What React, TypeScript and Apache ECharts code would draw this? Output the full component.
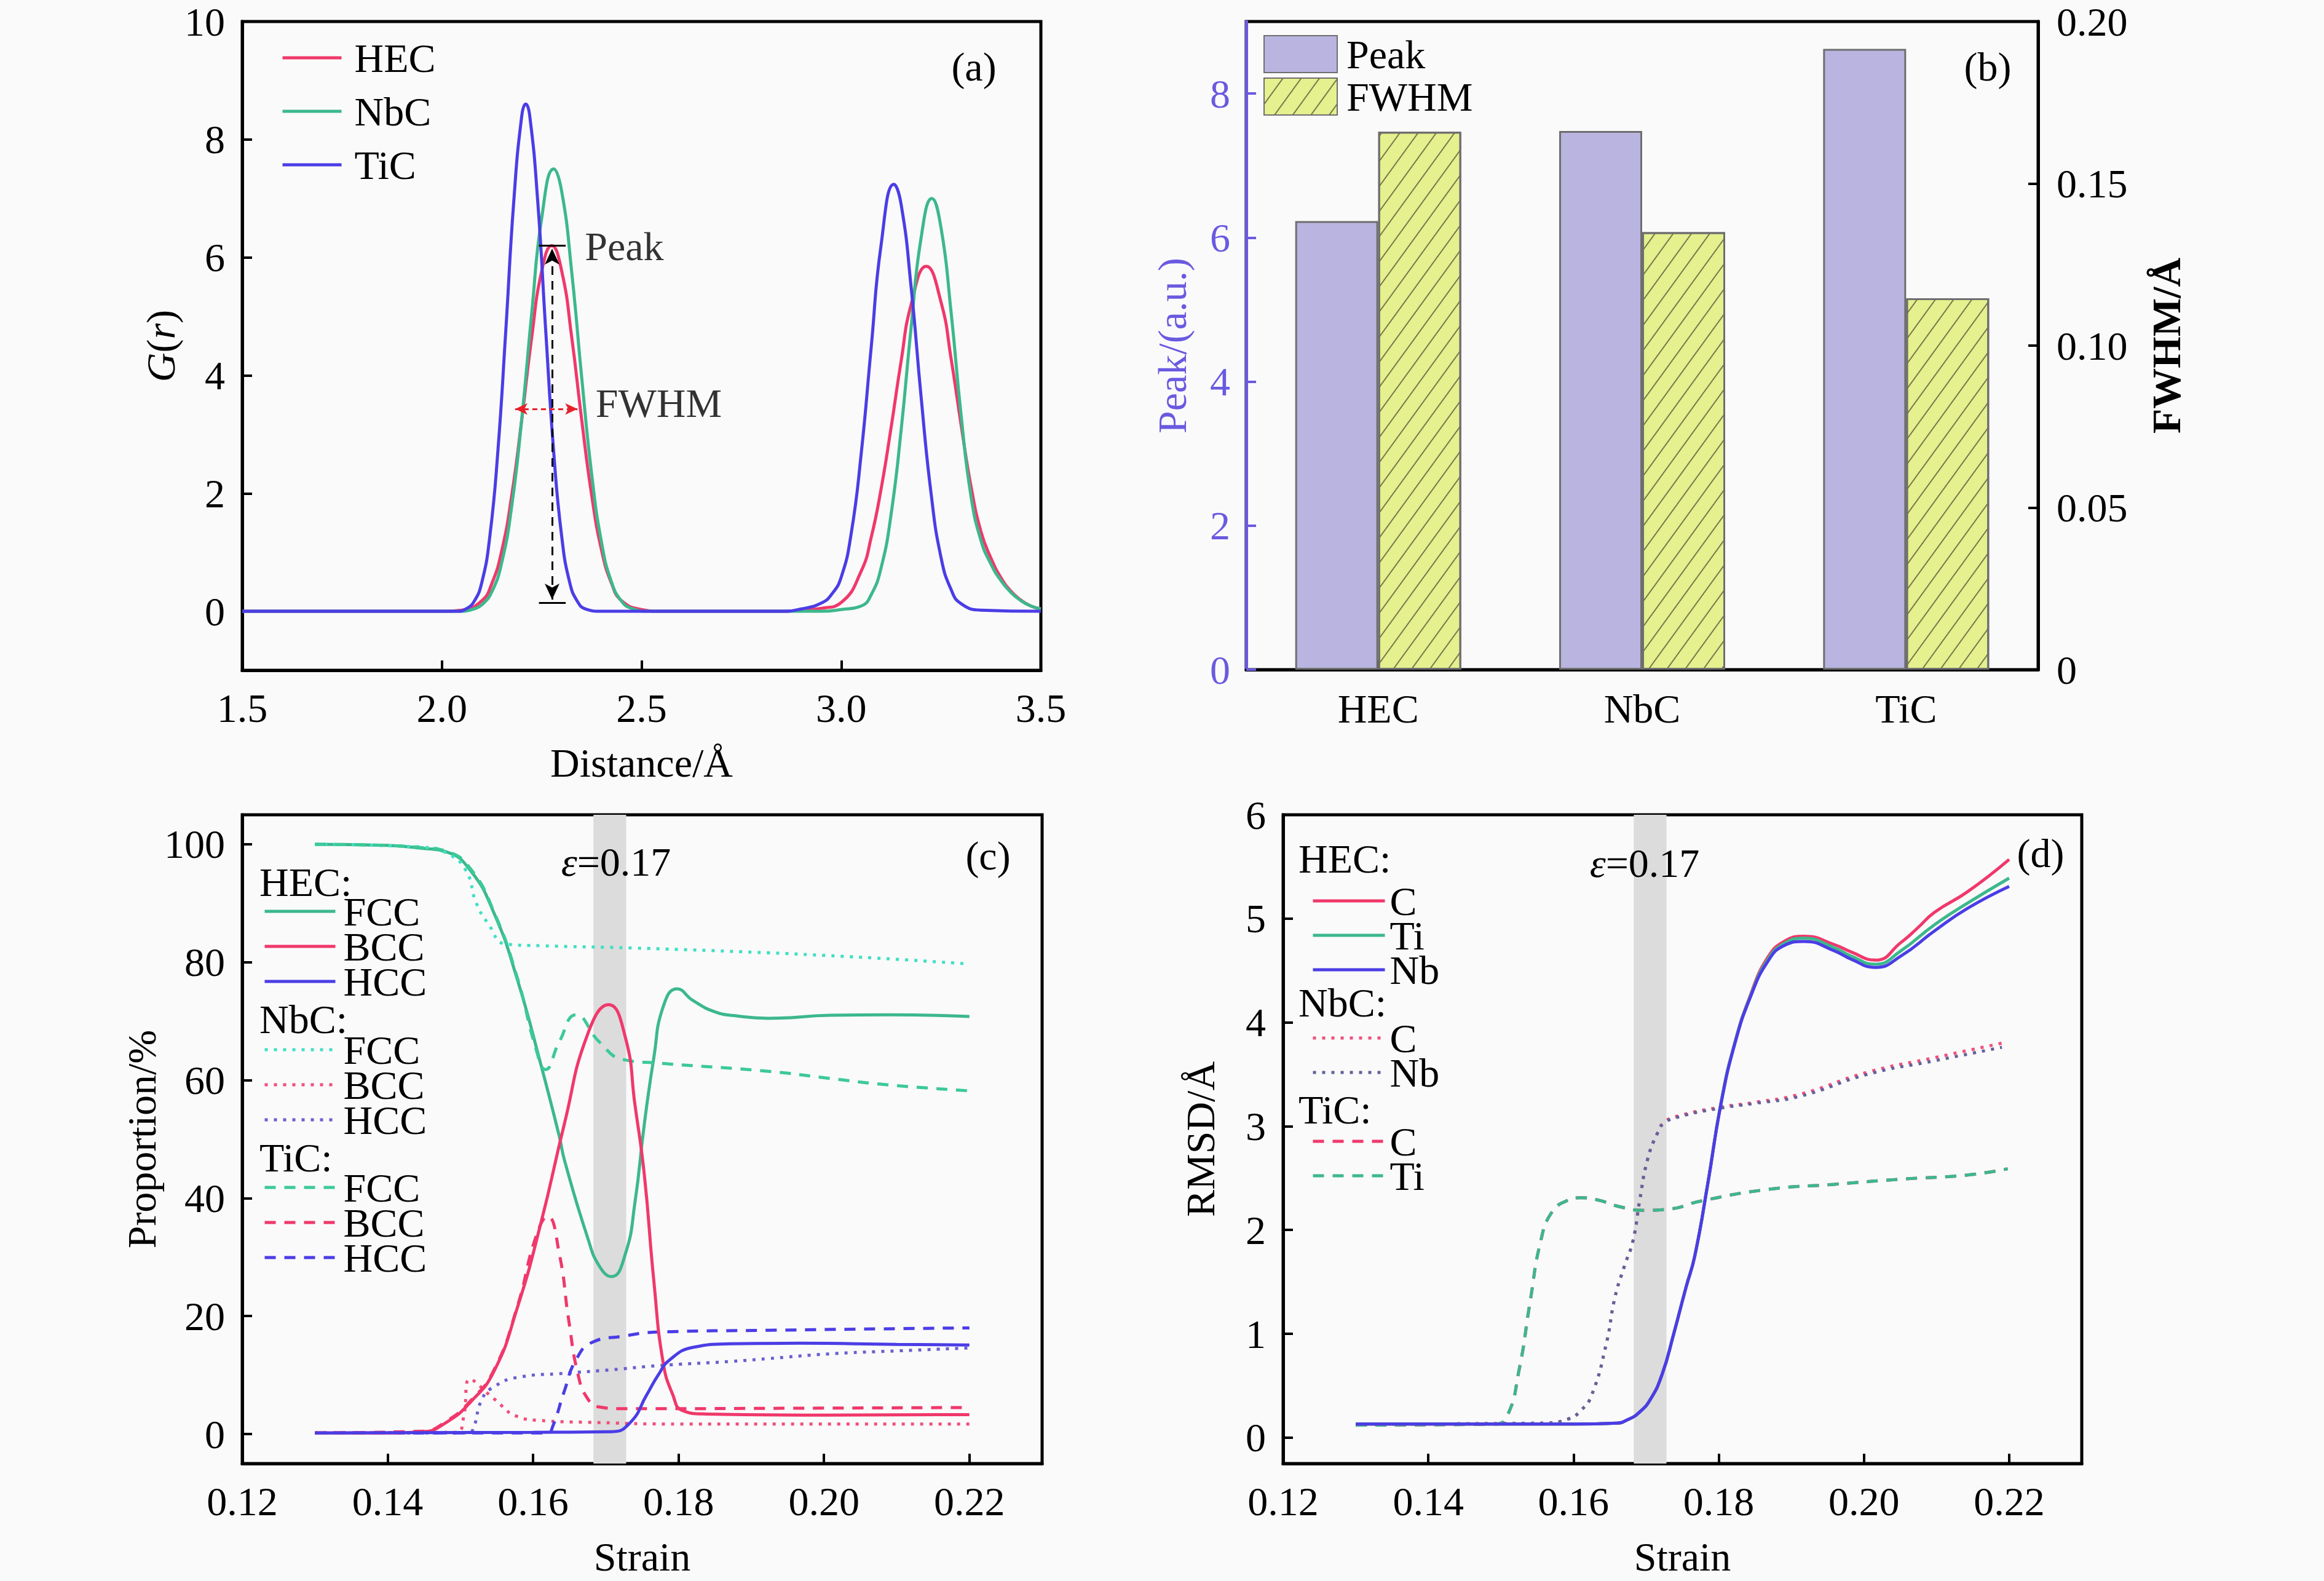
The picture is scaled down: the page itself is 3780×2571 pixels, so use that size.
import React, { useEffect, useRef } from 'react';
import * as echarts from 'echarts';

const FONT = "'Liberation Serif', 'Times New Roman', Times, serif";
const FS = 66;

const RED = '#f0386b';
const GREEN = '#3cb88c';
const BLUE = '#4b3de6';
const CYAN = '#3fe0c4';
const DOTRED = '#f04f7c';
const DOTBLUE = '#6a5fd0';
const DASHGREEN = '#3cc99a';
const NBGRAY = '#62629c';
const PEAKC = '#b9b4e0';
const FWHMC = '#e5f08e';
const AXBLUE = '#6a5ae0';

// ---------- Panel (a): G(r) ----------
const gHEC: number[][] = [
  [1.5, 0], [2.0, 0], [2.05, 0.02], [2.1, 0.18], [2.125, 0.47], [2.15, 1.03], [2.175, 1.97], [2.2, 3.25],
  [2.225, 4.65], [2.25, 5.77], [2.275, 6.2], [2.3, 5.77], [2.325, 4.65], [2.35, 3.25], [2.375, 1.97],
  [2.4, 1.03], [2.425, 0.47], [2.45, 0.18], [2.5, 0.03], [2.55, 0], [2.85, 0], [2.9, 0.02], [2.95, 0.05],
  [3.0, 0.15], [3.05, 0.68], [3.075, 1.25], [3.1, 2.08], [3.125, 3.12], [3.15, 4.24], [3.175, 5.2],
  [3.213, 5.85], [3.25, 5.24], [3.275, 4.29], [3.3, 3.17], [3.325, 2.12], [3.35, 1.35], [3.375, 0.9],
  [3.4, 0.57], [3.425, 0.34], [3.45, 0.19], [3.475, 0.09], [3.5, 0.04],
];
const gNbC: number[][] = [
  [1.5, 0], [2.05, 0], [2.08, 0.04], [2.1, 0.11], [2.125, 0.33], [2.15, 0.83], [2.175, 1.79], [2.2, 3.26],
  [2.225, 5.06], [2.25, 6.67], [2.28, 7.5], [2.3, 7.12], [2.325, 5.76], [2.35, 3.97], [2.375, 2.33],
  [2.4, 1.16], [2.425, 0.49], [2.45, 0.17], [2.475, 0.05], [2.52, 0], [2.95, 0], [3.0, 0.03], [3.05, 0.09],
  [3.075, 0.28], [3.1, 0.74], [3.125, 1.65], [3.15, 3.07], [3.175, 4.81], [3.2, 6.33], [3.227, 7.0],
  [3.25, 6.5], [3.275, 5.08], [3.3, 3.34], [3.325, 1.95], [3.35, 1.2], [3.375, 0.8], [3.4, 0.52],
  [3.425, 0.32], [3.45, 0.18], [3.475, 0.09], [3.5, 0.04],
];
const gTiC: number[][] = [
  [1.5, 0], [2.04, 0], [2.06, 0.04], [2.08, 0.16], [2.1, 0.49], [2.12, 1.27], [2.14, 2.7], [2.16, 4.76],
  [2.18, 6.95], [2.2, 8.4], [2.21, 8.6], [2.22, 8.4], [2.24, 6.95], [2.26, 4.76], [2.28, 2.7], [2.3, 1.27],
  [2.32, 0.49], [2.34, 0.16], [2.36, 0.04], [2.4, 0], [2.85, 0], [2.9, 0.04], [2.95, 0.14], [2.975, 0.28],
  [3.0, 0.58], [3.025, 1.32], [3.05, 2.67], [3.075, 4.47], [3.1, 6.22], [3.132, 7.24], [3.15, 6.9],
  [3.175, 5.5], [3.2, 3.64], [3.225, 2.0], [3.25, 0.91], [3.275, 0.37], [3.3, 0.13], [3.35, 0.02], [3.5, 0],
];
const aXTicks = [1.5, 2.0, 2.5, 3.0, 3.5];
const aYTicks = [0, 2, 4, 6, 8, 10];
// annotation geometry (data units)
const peakCapTop = [[2.243, 6.2], [2.31, 6.2]];
const peakCapBottom = [[2.243, 0.14], [2.31, 0.14]];
const peakArrow = [[2.276, 0.2], [2.276, 6.15]];
const fwhmArrow = [[2.1835, 3.43], [2.3395, 3.43]];
const annotTexts = [
  { value: [2.358, 6.19], text: 'Peak' },
  { value: [2.385, 3.53], text: 'FWHM' },
];

// ---------- Panel (b): bars ----------
const bCategories = ['HEC', 'NbC', 'TiC'];
const peakVals = [6.23, 7.48, 8.62];
const fwhmVals = [0.166, 0.135, 0.1146];
const bLeftTicks = [0, 2, 4, 6, 8];
const bRightTicks = [0, 0.05, 0.1, 0.15, 0.2];

// ---------- Panel (c): proportions ----------
const cHEC_FCC: number[][] = [
  [0.13, 100], [0.14, 99.8], [0.1449, 99.3], [0.1481, 98.7], [0.1513, 95.7], [0.1546, 88.4], [0.1578, 77.2],
  [0.1611, 62.5], [0.1636, 50.5], [0.1643, 46.5], [0.1675, 33.3], [0.1691, 28.5], [0.1708, 26.7],
  [0.1727, 30.6], [0.174, 39.2], [0.1753, 52.6], [0.1766, 63.8], [0.1779, 72.5], [0.1798, 75.5],
  [0.182, 73.5], [0.185, 71.6], [0.188, 70.9], [0.1924, 70.5], [0.2008, 71.0], [0.2089, 71.1], [0.22, 70.8],
];
const cHEC_BCC: number[][] = [
  [0.13, 0.2], [0.14, 0.2], [0.1449, 0.4], [0.1481, 2.0], [0.1513, 5.3], [0.1546, 10.6], [0.1578, 21.3],
  [0.1611, 35.9], [0.1643, 52.6], [0.1675, 67.8], [0.1704, 72.8], [0.1727, 67.2], [0.174, 55.9],
  [0.1753, 43.9], [0.1766, 26.0], [0.1779, 12.0], [0.1792, 6.7], [0.1805, 4.0], [0.1837, 3.4], [0.2, 3.2], [0.22, 3.3],
];
const cHEC_HCC: number[][] = [
  [0.13, 0.2], [0.16, 0.3], [0.1708, 0.4], [0.1734, 2.0], [0.1756, 6.6], [0.1772, 10.0], [0.1788, 12.6],
  [0.182, 14.7], [0.187, 15.3], [0.1967, 15.4], [0.21, 15.2], [0.22, 15.1],
];
const cNbC_FCC: number[][] = [
  [0.13, 100], [0.145, 99.5], [0.1481, 98.5], [0.1507, 95.7], [0.1522, 90], [0.1539, 86.4], [0.1562, 83.1],
  [0.1611, 82.8], [0.174, 82.4], [0.1924, 81.6], [0.2008, 81.1], [0.21, 80.5], [0.22, 79.7],
];
const cNbC_BCC: number[][] = [
  [0.13, 0.2], [0.1495, 0.3], [0.1504, 2.6], [0.1513, 9.3], [0.1546, 6.0], [0.1578, 3.0], [0.1611, 2.3],
  [0.1675, 2.0], [0.18, 1.7], [0.22, 1.7],
];
const cNbC_HCC: number[][] = [
  [0.13, 0.2], [0.151, 0.2], [0.1517, 0.7], [0.153, 6.0], [0.1546, 8.0], [0.1578, 9.6], [0.1643, 10.3],
  [0.1708, 10.9], [0.1772, 11.6], [0.187, 12.3], [0.1924, 12.8], [0.2008, 13.6], [0.21, 14.1], [0.22, 14.6],
];
const cTiC_FCC: number[][] = [
  [0.13, 100], [0.14, 99.8], [0.1449, 99.4], [0.1481, 98.8], [0.1513, 96.0], [0.1546, 88.6], [0.1578, 77.5],
  [0.1604, 65.3], [0.1617, 61.8], [0.1636, 66.5], [0.1659, 71.1], [0.1691, 66.5], [0.1724, 63.5],
  [0.1772, 62.9], [0.1924, 61.5], [0.2008, 60.3], [0.2089, 59.2], [0.22, 58.2],
];
const cTiC_BCC: number[][] = [
  [0.13, 0.2], [0.1449, 0.5], [0.1481, 2.2], [0.1513, 5.5], [0.1546, 10.8], [0.1578, 21.5], [0.1604, 33.5],
  [0.162, 36.9], [0.1636, 30.6], [0.1649, 19.3], [0.1662, 10.0], [0.1675, 6.0], [0.1691, 4.6], [0.1724, 4.3],
  [0.2, 4.4], [0.22, 4.5],
];
const cTiC_HCC: number[][] = [
  [0.13, 0.2], [0.162, 0.2], [0.1627, 1.3], [0.1643, 7.3], [0.1659, 12.6], [0.1682, 15.6], [0.1724, 16.6],
  [0.1772, 17.3], [0.1924, 17.6], [0.22, 18.0],
];
const strainTicks = [0.12, 0.14, 0.16, 0.18, 0.2, 0.22];
const cYTicks = [0, 20, 40, 60, 80, 100];
const bandRange = [0.1683, 0.1728];

// ---------- Panel (d): RMSD ----------
const dHEC_C: number[][] = [
  [0.13, 0.13], [0.16, 0.13], [0.166, 0.14], [0.1674, 0.17], [0.169, 0.24], [0.1706, 0.37], [0.1722, 0.61],
  [0.1738, 1.0], [0.1755, 1.45], [0.1767, 1.75], [0.1785, 2.45], [0.1803, 3.22], [0.1822, 3.8], [0.1844, 4.27],
  [0.1867, 4.62], [0.189, 4.78], [0.1918, 4.83], [0.1959, 4.75], [0.1982, 4.68], [0.2016, 4.6], [0.2051, 4.77],
  [0.2074, 4.91], [0.2097, 5.06], [0.2143, 5.26], [0.22, 5.57],
];
const dHEC_Ti: number[][] = [
  [0.13, 0.13], [0.16, 0.13], [0.166, 0.14], [0.1674, 0.17], [0.169, 0.24], [0.1706, 0.37], [0.1722, 0.61],
  [0.1738, 1.0], [0.1755, 1.45], [0.1767, 1.75], [0.1785, 2.45], [0.1803, 3.22], [0.1822, 3.8], [0.1844, 4.26],
  [0.1867, 4.6], [0.189, 4.76], [0.1918, 4.81], [0.1959, 4.72], [0.1982, 4.64], [0.2016, 4.56], [0.2051, 4.69],
  [0.2097, 4.94], [0.2143, 5.15], [0.22, 5.39],
];
const dHEC_Nb: number[][] = [
  [0.13, 0.13], [0.16, 0.13], [0.166, 0.14], [0.1674, 0.17], [0.169, 0.24], [0.1706, 0.37], [0.1722, 0.61],
  [0.1738, 1.0], [0.1755, 1.45], [0.1767, 1.75], [0.1785, 2.45], [0.1803, 3.21], [0.1822, 3.79], [0.1844, 4.25],
  [0.1867, 4.58], [0.189, 4.74], [0.1918, 4.78], [0.1959, 4.69], [0.1982, 4.61], [0.2016, 4.53], [0.2051, 4.64],
  [0.2097, 4.88], [0.2143, 5.1], [0.22, 5.31],
];
const dNbC_C: number[][] = [
  [0.13, 0.13], [0.156, 0.14], [0.1593, 0.18], [0.161, 0.26], [0.1625, 0.41], [0.1645, 0.9], [0.1657, 1.35],
  [0.167, 1.65], [0.1682, 1.9], [0.1691, 2.28], [0.1702, 2.68], [0.1716, 2.94], [0.1725, 3.04], [0.1745, 3.1],
  [0.1799, 3.18], [0.185, 3.23], [0.1913, 3.31], [0.2005, 3.52], [0.2097, 3.66], [0.219, 3.8],
];
const dNbC_Nb: number[][] = [
  [0.13, 0.13], [0.156, 0.14], [0.1593, 0.18], [0.161, 0.26], [0.1625, 0.41], [0.1645, 0.9], [0.1657, 1.35],
  [0.167, 1.65], [0.1682, 1.9], [0.1691, 2.28], [0.1702, 2.68], [0.1716, 2.94], [0.1725, 3.03], [0.1745, 3.09],
  [0.1799, 3.17], [0.185, 3.22], [0.1913, 3.29], [0.2005, 3.5], [0.2097, 3.63], [0.219, 3.76],
];
const dTiC_C: number[][] = [
  [0.13, 0.12], [0.149, 0.13], [0.1508, 0.2], [0.1525, 0.65], [0.154, 1.3], [0.1555, 1.9], [0.157, 2.17],
  [0.159, 2.28], [0.161, 2.31], [0.1633, 2.29], [0.1666, 2.22], [0.1698, 2.19], [0.173, 2.2], [0.1776, 2.28],
  [0.1867, 2.39], [0.1959, 2.44], [0.2051, 2.49], [0.2143, 2.53], [0.2198, 2.59],
];
const dTiC_Ti: number[][] = [
  [0.13, 0.12], [0.149, 0.13], [0.1508, 0.2], [0.1525, 0.65], [0.154, 1.3], [0.1555, 1.9], [0.157, 2.17],
  [0.159, 2.28], [0.161, 2.31], [0.1633, 2.29], [0.1666, 2.22], [0.1698, 2.19], [0.173, 2.2], [0.1776, 2.28],
  [0.1867, 2.39], [0.1959, 2.44], [0.2051, 2.49], [0.2143, 2.53], [0.2198, 2.59],
];
const dYTicks = [0, 1, 2, 3, 4, 5, 6];

// ---------- helpers ----------
const txt = (extra: any = {}) => ({ fontFamily: FONT, fontSize: FS, color: '#000', ...extra });
const DOT = [5, 10];
const DASH = [18, 14];

function valueAxis(o: any) {
  const color = o.color || '#000';
  return {
    type: 'value',
    gridIndex: o.grid,
    position: o.position,
    min: o.min,
    max: o.max,
    name: o.name,
    nameLocation: 'middle',
    nameGap: o.nameGap,
    nameTextStyle: txt({ color, ...(o.nameStyle || {}) }),
    axisLine: { show: true, onZero: false, lineStyle: { color, width: 5 } },
    axisTick: { show: true, inside: true, length: 16, lineStyle: { color, width: 4 }, customValues: o.ticks },
    axisLabel: { ...txt({ color }), margin: o.margin ?? 28, customValues: o.ticks, formatter: o.formatter },
    splitLine: { show: false },
  };
}

function lineSeries(name: string, x: number, y: number, data: number[][], color: string, type: any, extra: any = {}) {
  return {
    name,
    type: 'line',
    xAxisIndex: x,
    yAxisIndex: y,
    data,
    symbol: 'none',
    smooth: true,
    lineStyle: { color, width: 5, type },
    itemStyle: { color },
    z: 3,
    ...extra,
  };
}

const band = {
  silent: true,
  itemStyle: { color: '#dcdcdc' },
  data: [[{ xAxis: bandRange[0] }, { xAxis: bandRange[1] }]],
};

function groupLegend(data: string[], left: number, top: number, itemWidth: number, padLeft: number, gap: number) {
  return {
    data,
    orient: 'vertical',
    left,
    top,
    padding: 0,
    itemWidth,
    itemHeight: 20,
    itemGap: gap,
    selectedMode: false,
    itemStyle: { opacity: 0 },
    lineStyle: { width: 5 },
    formatter: (n: string) => n.split('|')[1],
    textStyle: txt({ padding: [0, 0, 0, padLeft] }),
  };
}

function label(text: string, x: number, y: number, extra: any = {}) {
  return {
    type: 'text',
    x,
    y,
    z: 50,
    silent: true,
    style: { text, fontFamily: FONT, fontSize: FS, fill: '#000', align: 'center', verticalAlign: 'middle', ...extra },
  };
}

export default function App() {
  const ref = useRef<HTMLDivElement>(null);

  useEffect(() => {
    document.body.style.margin = '0';
    const chart = echarts.init(ref.current!, null, { renderer: 'svg' });

    const markLineA = {
      silent: true,
      label: { show: false },
      symbol: ['none', 'none'],
      data: [
        [
          { coord: peakCapTop[0], symbol: 'none', lineStyle: { color: '#000', width: 3, type: 'solid' } },
          { coord: peakCapTop[1], symbol: 'none' },
        ],
        [
          { coord: peakCapBottom[0], symbol: 'none', lineStyle: { color: '#000', width: 3, type: 'solid' } },
          { coord: peakCapBottom[1], symbol: 'none' },
        ],
        [
          { coord: peakArrow[0], symbol: 'arrow', symbolSize: [18, 26], lineStyle: { color: '#000', width: 3, type: [14, 10] } },
          { coord: peakArrow[1], symbol: 'arrow', symbolSize: [18, 26] },
        ],
        [
          { coord: fwhmArrow[0], symbol: 'arrow', symbolSize: [14, 20], lineStyle: { color: '#e8202a', width: 3, type: [8, 6] } },
          { coord: fwhmArrow[1], symbol: 'arrow', symbolSize: [14, 20] },
        ],
      ],
    };

    const option: any = {
      animation: false,
      backgroundColor: '#fafafa',
      textStyle: { fontFamily: FONT },
      grid: [
        { left: 394, top: 35, width: 1299, height: 1055 },
        { left: 2027, top: 35, width: 1288, height: 1054 },
        { left: 394, top: 1325, width: 1301, height: 1055 },
        { left: 2087, top: 1325, width: 1299, height: 1055 },
      ].map((g) => ({ ...g, show: true, borderColor: '#000', borderWidth: 5, backgroundColor: 'transparent', containLabel: false })),
      xAxis: [
        valueAxis({ grid: 0, min: 1.5, max: 3.5, ticks: aXTicks, formatter: (v: number) => v.toFixed(1), name: 'Distance/Å', nameGap: 117 }),
        {
          type: 'category',
          gridIndex: 1,
          data: bCategories,
          axisLine: { show: true, lineStyle: { color: '#000', width: 5 } },
          axisTick: { show: true, inside: true, alignWithLabel: true, length: 16, lineStyle: { color: '#000', width: 4 } },
          axisLabel: { ...txt(), margin: 30 },
          splitLine: { show: false },
        },
        valueAxis({ grid: 2, min: 0.12, max: 0.23, ticks: strainTicks, formatter: (v: number) => v.toFixed(2), name: 'Strain', nameGap: 118 }),
        valueAxis({ grid: 3, min: 0.12, max: 0.23, ticks: strainTicks, formatter: (v: number) => v.toFixed(2), name: 'Strain', nameGap: 118 }),
      ],
      yAxis: [
        valueAxis({
          grid: 0, min: -1, max: 10, ticks: aYTicks, formatter: (v: number) => String(v), nameGap: 100,
          name: '{i|G}({i|r})',
          nameStyle: { rich: { i: { fontFamily: FONT, fontSize: FS, fontStyle: 'italic', color: '#000' } } },
        }),
        valueAxis({
          grid: 1, min: 0, max: 9, ticks: bLeftTicks, formatter: (v: number) => String(v), color: AXBLUE,
          name: 'Peak/(a.u.)', nameGap: 88, margin: 26,
        }),
        valueAxis({
          grid: 1, position: 'right', min: 0, max: 0.2, ticks: bRightTicks,
          formatter: (v: number) => (v === 0 ? '0' : v.toFixed(2)),
          name: 'FWHM/Å', nameGap: 175, nameStyle: { fontWeight: 'bold' }, margin: 30,
        }),
        valueAxis({ grid: 2, min: -5, max: 105, ticks: cYTicks, formatter: (v: number) => String(v), name: 'Proportion/%', nameGap: 112 }),
        valueAxis({ grid: 3, min: -0.25, max: 6, ticks: dYTicks, formatter: (v: number) => String(v), name: 'RMSD/Å', nameGap: 102 }),
      ],
      legend: [
        {
          data: ['HEC', 'NbC', 'TiC'], orient: 'vertical', left: 457, top: 61, padding: 0, itemWidth: 96, itemHeight: 20, itemGap: 21,
          selectedMode: false, itemStyle: { opacity: 0 }, lineStyle: { width: 5 },
          textStyle: txt({ padding: [0, 0, 0, 16] }),
        },
        {
          data: ['Peak', 'FWHM'], orient: 'vertical', left: 2055, top: 55, padding: 0, itemWidth: 119, itemHeight: 60, itemGap: 3,
          icon: 'rect', selectedMode: false, textStyle: txt({ padding: [0, 0, 0, 10] }),
        },
        groupLegend(['cHEC|FCC', 'cHEC|BCC', 'cHEC|HCC'], 428, 1449, 115, 8, -9),
        groupLegend(['cNbC|FCC', 'cNbC|BCC', 'cNbC|HCC'], 428, 1674, 115, 8, -9),
        groupLegend(['cTiC|FCC', 'cTiC|BCC', 'cTiC|HCC'], 428, 1898, 115, 8, -9),
        groupLegend(['dHEC|C', 'dHEC|Ti', 'dHEC|Nb'], 2133, 1432, 117, 3, -10),
        groupLegend(['dNbC|C', 'dNbC|Nb'], 2133, 1655, 117, 3, -10),
        groupLegend(['dTiC|C', 'dTiC|Ti'], 2133, 1823, 117, 3, -10),
      ],
      series: [
        // (a)
        lineSeries('HEC', 0, 0, gHEC, RED, 'solid', { markLine: markLineA }),
        lineSeries('NbC', 0, 0, gNbC, GREEN, 'solid'),
        lineSeries('TiC', 0, 0, gTiC, BLUE, 'solid'),
        {
          name: 'annot', type: 'scatter', xAxisIndex: 0, yAxisIndex: 0, symbolSize: 0, silent: true,
          itemStyle: { color: 'rgba(0,0,0,0)' },
          data: annotTexts.map((a) => ({ value: a.value, label: { formatter: a.text } })),
          label: { show: true, position: 'right', distance: 0, ...txt() },
          z: 10,
        },
        // (b)
        {
          name: 'Peak', type: 'bar', xAxisIndex: 1, yAxisIndex: 1, data: peakVals, barWidth: 135, barGap: '0%',
          itemStyle: { color: PEAKC, borderColor: '#6e6e6e', borderWidth: 3 },
        },
        {
          name: 'FWHM', type: 'bar', xAxisIndex: 1, yAxisIndex: 2, data: fwhmVals, barWidth: 135, barGap: '0%',
          itemStyle: {
            color: FWHMC, borderColor: '#6e6e6e', borderWidth: 3,
            decal: { symbol: 'rect', symbolSize: 1, dashArrayX: [1, 0], dashArrayY: [2, 22], rotation: -Math.PI * 0.3, color: 'rgba(90,90,60,0.8)' },
          },
        },
        // (c)
        lineSeries('cHEC|FCC', 2, 3, cHEC_FCC, GREEN, 'solid', { markArea: band }),
        lineSeries('cNbC|FCC', 2, 3, cNbC_FCC, CYAN, DOT),
        lineSeries('cTiC|FCC', 2, 3, cTiC_FCC, DASHGREEN, DASH),
        lineSeries('cNbC|BCC', 2, 3, cNbC_BCC, DOTRED, DOT),
        lineSeries('cNbC|HCC', 2, 3, cNbC_HCC, DOTBLUE, DOT),
        lineSeries('cTiC|BCC', 2, 3, cTiC_BCC, RED, DASH),
        lineSeries('cTiC|HCC', 2, 3, cTiC_HCC, BLUE, DASH),
        lineSeries('cHEC|BCC', 2, 3, cHEC_BCC, RED, 'solid'),
        lineSeries('cHEC|HCC', 2, 3, cHEC_HCC, BLUE, 'solid'),
        // (d)
        lineSeries('dTiC|C', 3, 4, dTiC_C, RED, DASH, { markArea: band }),
        lineSeries('dTiC|Ti', 3, 4, dTiC_Ti, GREEN, DASH),
        lineSeries('dNbC|C', 3, 4, dNbC_C, DOTRED, DOT),
        lineSeries('dNbC|Nb', 3, 4, dNbC_Nb, NBGRAY, DOT),
        lineSeries('dHEC|C', 3, 4, dHEC_C, RED, 'solid'),
        lineSeries('dHEC|Ti', 3, 4, dHEC_Ti, GREEN, 'solid'),
        lineSeries('dHEC|Nb', 3, 4, dHEC_Nb, BLUE, 'solid'),
      ],
      graphic: [
        label('(a)', 1584, 108),
        label('(b)', 3233, 108),
        label('(c)', 1607, 1391),
        label('(d)', 3319, 1387),
        label('{i|ε}=0.17', 1002, 1401, { rich: { i: { fontFamily: FONT, fontSize: FS, fontStyle: 'italic' } } }),
        label('{i|ε}=0.17', 2675, 1403, { rich: { i: { fontFamily: FONT, fontSize: FS, fontStyle: 'italic' } } }),
        label('HEC:', 422, 1434, { align: 'left' }),
        label('NbC:', 422, 1657, { align: 'left' }),
        label('TiC:', 422, 1882, { align: 'left' }),
        label('HEC:', 2112, 1396, { align: 'left' }),
        label('NbC:', 2112, 1630, { align: 'left' }),
        label('TiC:', 2112, 1804, { align: 'left' }),
      ],
    };

    chart.setOption(option);
    return () => chart.dispose();
  }, []);

  return <div ref={ref} style={{ width: 3780, height: 2571 }} />;
}
